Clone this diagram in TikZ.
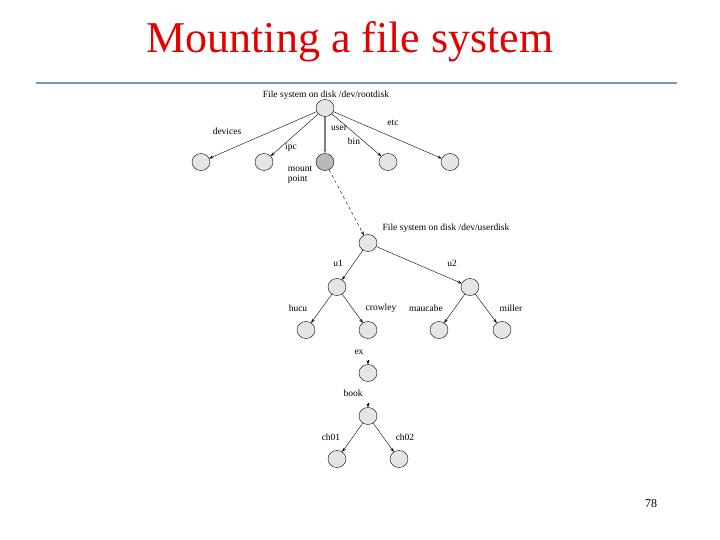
\documentclass[tikz,border=0pt]{standalone}
\usepackage{fontspec}
\setmainfont{Liberation Serif}
\usetikzlibrary{shapes.geometric,arrows.meta,positioning}
\tikzset{
  dir/.style     ={ellipse,draw,thin,fill=gray!20,minimum width=18pt,
                   minimum height=17pt,inner sep=0pt},
  mnt/.style     ={dir,fill=gray!55},
  lbl/.style     ={font=\fontsize{9.5}{10}\selectfont,inner sep=1pt},
  arr/.style     ={-{Stealth[length=4pt,width=3pt]},thin},
  usr/.style     ={-{Stealth[length=4pt,width=3pt]},line width=1.5pt,gray},
  mntarr/.style  ={-{Stealth[length=4pt,width=3pt]},thin,dashed}
}
\begin{document}
\begin{tikzpicture}[x=1pt,y=-1pt]
  \useasboundingbox (0,0) rectangle (720,540);

  % Title
  \node[font=\fontsize{44}{48}\selectfont,text=red!90!black] (title) at (350,42) {Mounting a file system};
  \draw[line width=2pt,color={rgb,255:red,120;green,152;blue,184}] (36,83) -- (677,83);

  % Root file system
  \node[lbl] (rootlbl) at (326,95) {File system on disk /dev/rootdisk};
  \node (root) at (325,108) [dir] {};
  \node (devices) at (201,162) [dir] {};
  \node (ipc)     at (264,162) [dir] {};
  \node (mount)   at (325,162) [mnt] {};
  \node (bin)     at (388,162) [dir] {};
  \node (etc)     at (450,162) [dir] {};

  \node[lbl] at (227,131) {devices};
  \node[lbl] at (291,147) {ipc};
  \node[lbl] at (339,128) {user};
  \node[lbl] at (354,141) {bin};
  \node[lbl] at (393,123) {etc};
  \node[lbl,align=left] at (300,175) {mount\\point};

  \draw[arr] (root) -- (devices);
  \draw[arr] (root) -- (ipc);
  \draw[usr] (root) -- (mount);
  \draw[arr] (root) -- (bin);
  \draw[arr] (root) -- (etc);

  % Mounted file system
  \node[lbl] (userlbl) at (446,228) {File system on disk /dev/userdisk};
  \node (uroot) at (368,243) [dir] {};
  \node (u1) at (337,287) [dir] {};
  \node (u2) at (470,287) [dir] {};
  \node (hucu)    at (306,330) [dir] {};
  \node (crowley) at (368,330) [dir] {};
  \node (maucabe) at (439,330) [dir] {};
  \node (miller)  at (502,330) [dir] {};

  \node[lbl] at (338,263) {u1};
  \node[lbl] at (452,263) {u2};
  \node[lbl] at (298,308) {hucu};
  \node[lbl] at (381,308) {crowley};
  \node[lbl] at (426,308) {maucabe};
  \node[lbl] at (511,308) {miller};

  \draw[mntarr] (mount) -- (uroot);
  \draw[arr] (uroot) -- (u1);
  \draw[arr] (uroot) -- (u2);
  \draw[arr] (u1) -- (hucu);
  \draw[arr] (u1) -- (crowley);
  \draw[arr] (u2) -- (maucabe);
  \draw[arr] (u2) -- (miller);

  % Lower part
  \node (ex)   at (368,373) [dir] {};
  \node (book) at (368,416) [dir] {};
  \node (ch01) at (337,459) [dir] {};
  \node (ch02) at (399,459) [dir] {};
  \node[lbl] at (359,352) {ex};
  \node[lbl] at (353,393) {book};
  \node[lbl] at (331,437) {ch01};
  \node[lbl] at (405,437) {ch02};

  \coordinate (extip) at (368,360);
  \coordinate (booktip) at (368,403);
  \draw[arr] (extip) -- (ex);
  \draw[arr] (booktip) -- (book);
  \draw[arr] (book) -- (ch01);
  \draw[arr] (book) -- (ch02);

  % Page number
  \node[font=\fontsize{12}{14}\selectfont] (page) at (651,504) {78};
\end{tikzpicture}
\end{document}
